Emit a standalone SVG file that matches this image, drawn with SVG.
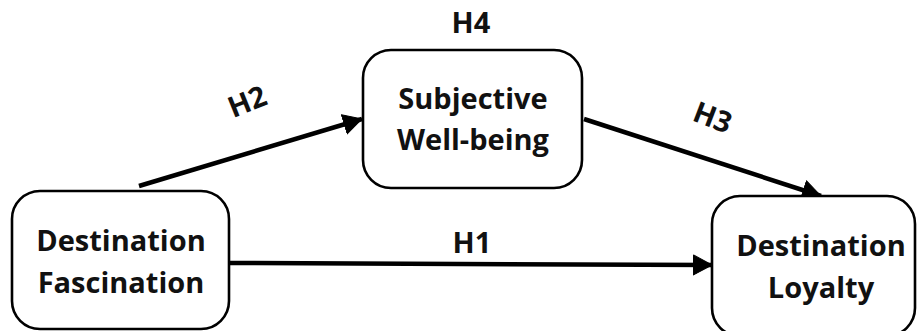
<svg xmlns="http://www.w3.org/2000/svg" width="917" height="331" viewBox="0 0 917 331">
<style>
.box{fill:#fff;stroke:#000;stroke-width:2.6}
.t{font-family:"Open Sans","Liberation Sans",sans-serif;font-weight:bold;font-size:29px;fill:#111;text-anchor:middle}
.c{stroke:#000;stroke-width:4.5;fill:none;marker-end:url(#ah)}
</style>
<defs>
<marker id="ah" markerUnits="userSpaceOnUse" markerWidth="20" markerHeight="22" refX="19" refY="11" orient="auto" viewBox="0 0 20 22">
<path d="M0.5,1 L19,11 L0.5,21 z" fill="#000" stroke="#000" stroke-width="1" stroke-linejoin="round"/>
</marker>
</defs>
<rect width="917" height="331" fill="#fff"/>
<g id="connectors">
<line class="c" x1="139" y1="186" x2="362" y2="119"/>
<line class="c" x1="584" y1="119" x2="821" y2="196"/>
<line class="c" x1="230" y1="263" x2="712" y2="265"/>
</g>
<g id="labels">
<text class="t" x="471" y="33">H4</text>
<text class="t" x="472" y="253">H1</text>
<text class="t" transform="translate(251,111) rotate(-22)" x="0" y="0">H2</text>
<text class="t" transform="translate(709,127) rotate(21)" x="0" y="0">H3</text>
</g>
<g id="destination-fascination">
<rect class="box" x="12" y="191" width="217" height="138" rx="28"/>
<text class="t" x="121" y="251">Destination</text>
<text class="t" x="121" y="293">Fascination</text>
</g>
<g id="subjective-wellbeing">
<rect class="box" x="363" y="50" width="219" height="138" rx="28"/>
<text class="t" x="473" y="109">Subjective</text>
<text class="t" x="473" y="150">Well-being</text>
</g>
<g id="destination-loyalty">
<rect class="box" x="712" y="196" width="203" height="140" rx="28"/>
<text class="t" x="821" y="256">Destination</text>
<text class="t" x="821" y="298">Loyalty</text>
</g>
</svg>
